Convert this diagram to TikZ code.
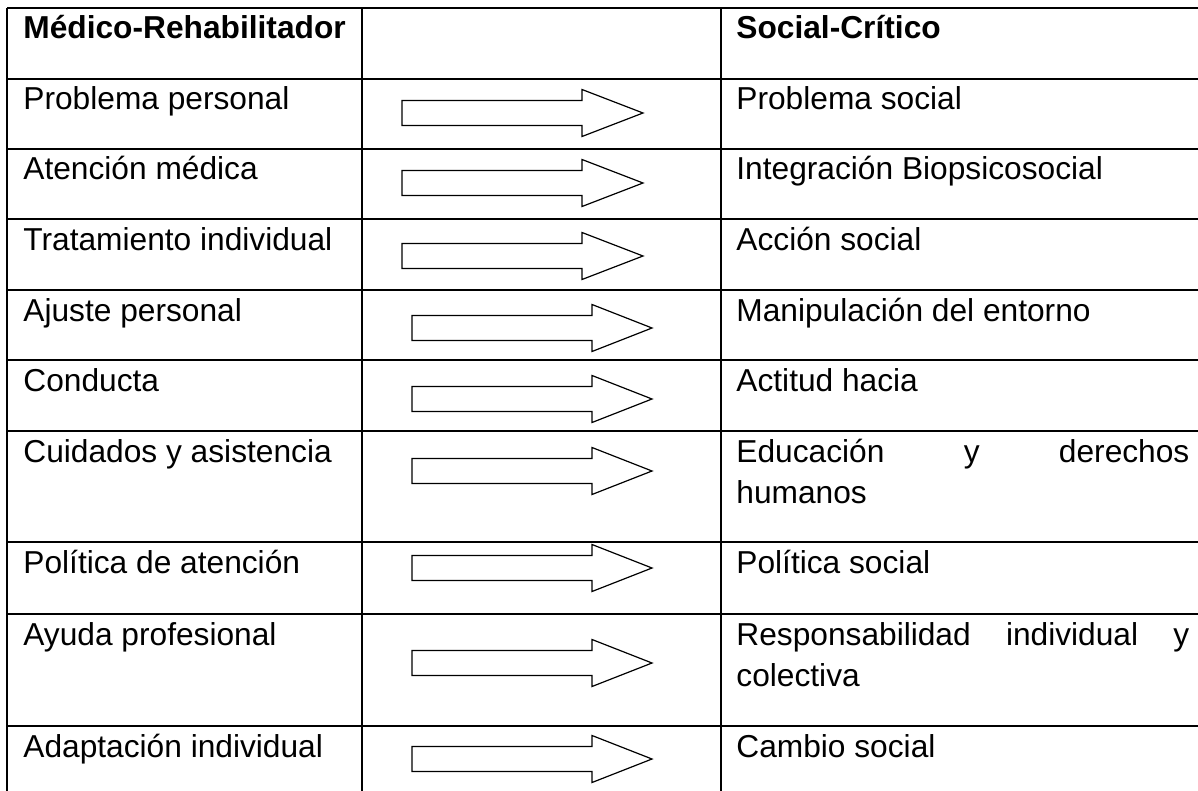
\documentclass[tikz,border=0pt]{standalone}
\usepackage{fontspec}
\setmainfont{Liberation Sans}
\begin{document}
\begin{tikzpicture}[x=0.5pt, y=-0.5pt,
  rule/.style={line width=0.8pt},
  blockarrow/.style={line width=0.6pt, fill=white, line join=miter},
  cell/.style={anchor=base west, inner sep=0pt, align=left, font=\fontsize{15.85}{20.5}\selectfont},
  head/.style={cell, font=\fontsize{15.85}{20.5}\selectfont\bfseries}]
  \useasboundingbox (0,0) rectangle (1198,791);
  \clip (0,0) rectangle (1198,791);
  % table rules
  \draw[rule] (7,8) -- (1210,8);
  \draw[rule] (7,79) -- (1210,79);
  \draw[rule] (7,149) -- (1210,149);
  \draw[rule] (7,219) -- (1210,219);
  \draw[rule] (7,290) -- (1210,290);
  \draw[rule] (7,360) -- (1210,360);
  \draw[rule] (7,431) -- (1210,431);
  \draw[rule] (7,542) -- (1210,542);
  \draw[rule] (7,614) -- (1210,614);
  \draw[rule] (7,726) -- (1210,726);
  \draw[rule] (7,8) -- (7,800);
  \draw[rule] (362,8) -- (362,800);
  \draw[rule] (721,8) -- (721,800);
  % headings
  \node[head] (hdrMed) at (23,39) {Médico-Rehabilitador};
  \node[head] (hdrSoc) at (736,39) {Social-Crítico};
  % left column
  \node[cell] (med1) at (23,110) {Problema personal};
  \node[cell] (med2) at (23,180) {Atención médica};
  \node[cell] (med3) at (23,250) {Tratamiento individual};
  \node[cell] (med4) at (23,321) {Ajuste personal};
  \node[cell] (med5) at (23,391) {Conducta};
  \node[cell] (med6) at (23,462) {Cuidados y asistencia};
  \node[cell] (med7) at (23,573) {Política de atención};
  \node[cell] (med8) at (23,645) {Ayuda profesional};
  \node[cell] (med9) at (23,757) {Adaptación individual};
  % right column (two-line cells sit on their last line)
  \node[cell] (soc1) at (736,110) {Problema social};
  \node[cell] (soc2) at (736,180) {Integración Biopsicosocial};
  \node[cell] (soc3) at (736,250) {Acción social};
  \node[cell] (soc4) at (736,321) {Manipulación del entorno};
  \node[cell] (soc5) at (736,391) {Actitud hacia};
  \node[cell] (soc6) at (736,503) {\hbox to 226.5pt{Educación\hfill y\hfill derechos}\\humanos};
  \node[cell] (soc7) at (736,573) {Política social};
  \node[cell] (soc8) at (736,686) {\hbox to 226.5pt{Responsabilidad\hfill individual\hfill y}\\colectiva};
  \node[cell] (soc9) at (736,757) {Cambio social};
  % arrows
  \draw[blockarrow] (402,100.5) -- ++(180,0) -- ++(0,-11) -- ++(61,23.5) -- ++(-61,23.5) -- ++(0,-11) -- ++(-180,0) -- cycle;
  \draw[blockarrow] (402,170.5) -- ++(180,0) -- ++(0,-11) -- ++(61,23.5) -- ++(-61,23.5) -- ++(0,-11) -- ++(-180,0) -- cycle;
  \draw[blockarrow] (402,243.5) -- ++(180,0) -- ++(0,-11) -- ++(61,23.5) -- ++(-61,23.5) -- ++(0,-11) -- ++(-180,0) -- cycle;
  \draw[blockarrow] (412,315.5) -- ++(180,0) -- ++(0,-11) -- ++(60,23.5) -- ++(-60,23.5) -- ++(0,-11) -- ++(-180,0) -- cycle;
  \draw[blockarrow] (412,386.5) -- ++(180,0) -- ++(0,-11) -- ++(60,23.5) -- ++(-60,23.5) -- ++(0,-11) -- ++(-180,0) -- cycle;
  \draw[blockarrow] (412,458.5) -- ++(180,0) -- ++(0,-11) -- ++(60,23.5) -- ++(-60,23.5) -- ++(0,-11) -- ++(-180,0) -- cycle;
  \draw[blockarrow] (412,555.5) -- ++(180,0) -- ++(0,-11) -- ++(60,23.5) -- ++(-60,23.5) -- ++(0,-11) -- ++(-180,0) -- cycle;
  \draw[blockarrow] (412,650.5) -- ++(180,0) -- ++(0,-11) -- ++(60,23.5) -- ++(-60,23.5) -- ++(0,-11) -- ++(-180,0) -- cycle;
  \draw[blockarrow] (412,746.5) -- ++(180,0) -- ++(0,-11) -- ++(60,23.5) -- ++(-60,23.5) -- ++(0,-11) -- ++(-180,0) -- cycle;
\end{tikzpicture}
\end{document}
